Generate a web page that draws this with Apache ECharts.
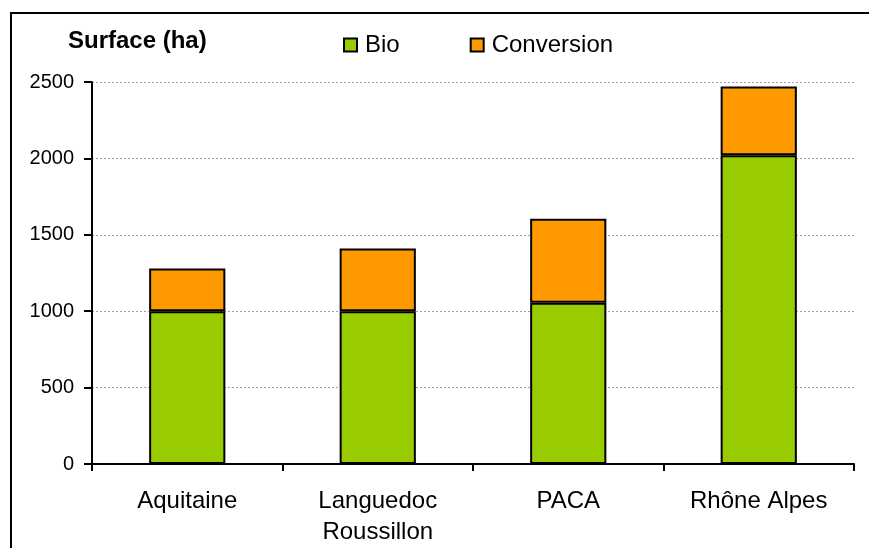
<!DOCTYPE html>
<html>
<head>
<meta charset="utf-8">
<style>
  html, body { margin: 0; padding: 0; background: #fff; }
  #chart { width: 869px; height: 548px; }
</style>
<script src="https://cdn.jsdelivr.net/npm/echarts@6/dist/echarts.min.js"></script>
</head>
<body>
<div id="chart"></div>
<script>
// Organic surfaces per region, in hectares
const regions = ['Aquitaine', 'Languedoc\nRoussillon', 'PACA', 'Rhône Alpes'];
const bio = [1000, 1000, 1055, 2020];
const conversion = [280, 410, 550, 450];
const yTicks = { min: 0, max: 2500, step: 500 };

const FONT = "'Liberation Sans', Arial, sans-serif";

const chart = echarts.init(document.getElementById('chart'), null, { renderer: 'canvas' });

chart.setOption({
  backgroundColor: '#ffffff',
  animation: false,
  textStyle: { fontFamily: FONT, color: '#000' },
  title: {
    text: 'Surface (ha)',
    left: 68,
    top: 29,
    padding: 0,
    textStyle: { fontFamily: FONT, fontSize: 24, fontWeight: 'bold', color: '#000' }
  },
  legend: {
    left: 343,
    top: 33,
    padding: 0,
    itemWidth: 13,
    itemHeight: 13,
    itemGap: 70,
    icon: 'rect',
    textStyle: { fontFamily: FONT, fontSize: 24, color: '#000', padding: [0, 0, 0, 3] },
    data: ['Bio', 'Conversion']
  },
  graphic: [{
    type: 'rect',
    shape: { x: 11, y: 13, width: 900, height: 600 },
    style: { fill: 'none', stroke: '#000', lineWidth: 2 },
    silent: true,
    z: 100
  }],
  grid: { left: 92, right: 15, top: 82, bottom: 84, containLabel: false },
  xAxis: {
    type: 'category',
    data: regions,
    axisLine: { show: true, lineStyle: { color: '#000', width: 2 } },
    axisTick: { show: true, length: 7, lineStyle: { color: '#000', width: 2 } },
    axisLabel: {
      fontFamily: FONT, fontSize: 24, color: '#000',
      margin: 22, lineHeight: 31, interval: 0
    }
  },
  yAxis: {
    type: 'value',
    min: yTicks.min,
    max: yTicks.max,
    interval: yTicks.step,
    axisLine: { show: true, lineStyle: { color: '#000', width: 2 } },
    axisTick: { show: true, length: 8, lineStyle: { color: '#000', width: 2 } },
    axisLabel: {
      fontFamily: FONT, fontSize: 20, color: '#000', margin: 18,
      formatter: (v) => String(v)
    },
    splitLine: { show: true, lineStyle: { color: '#a0a0a0', width: 1, type: [2, 2] } }
  },
  series: [
    {
      name: 'Bio',
      type: 'bar',
      stack: 'total',
      data: bio,
      barWidth: '40%',
      itemStyle: { color: '#99CC00', borderColor: '#000', borderWidth: 2 }
    },
    {
      name: 'Conversion',
      type: 'bar',
      stack: 'total',
      data: conversion,
      barWidth: '40%',
      itemStyle: { color: '#FF9900', borderColor: '#000', borderWidth: 2 }
    }
  ]
});
</script>
</body>
</html>
